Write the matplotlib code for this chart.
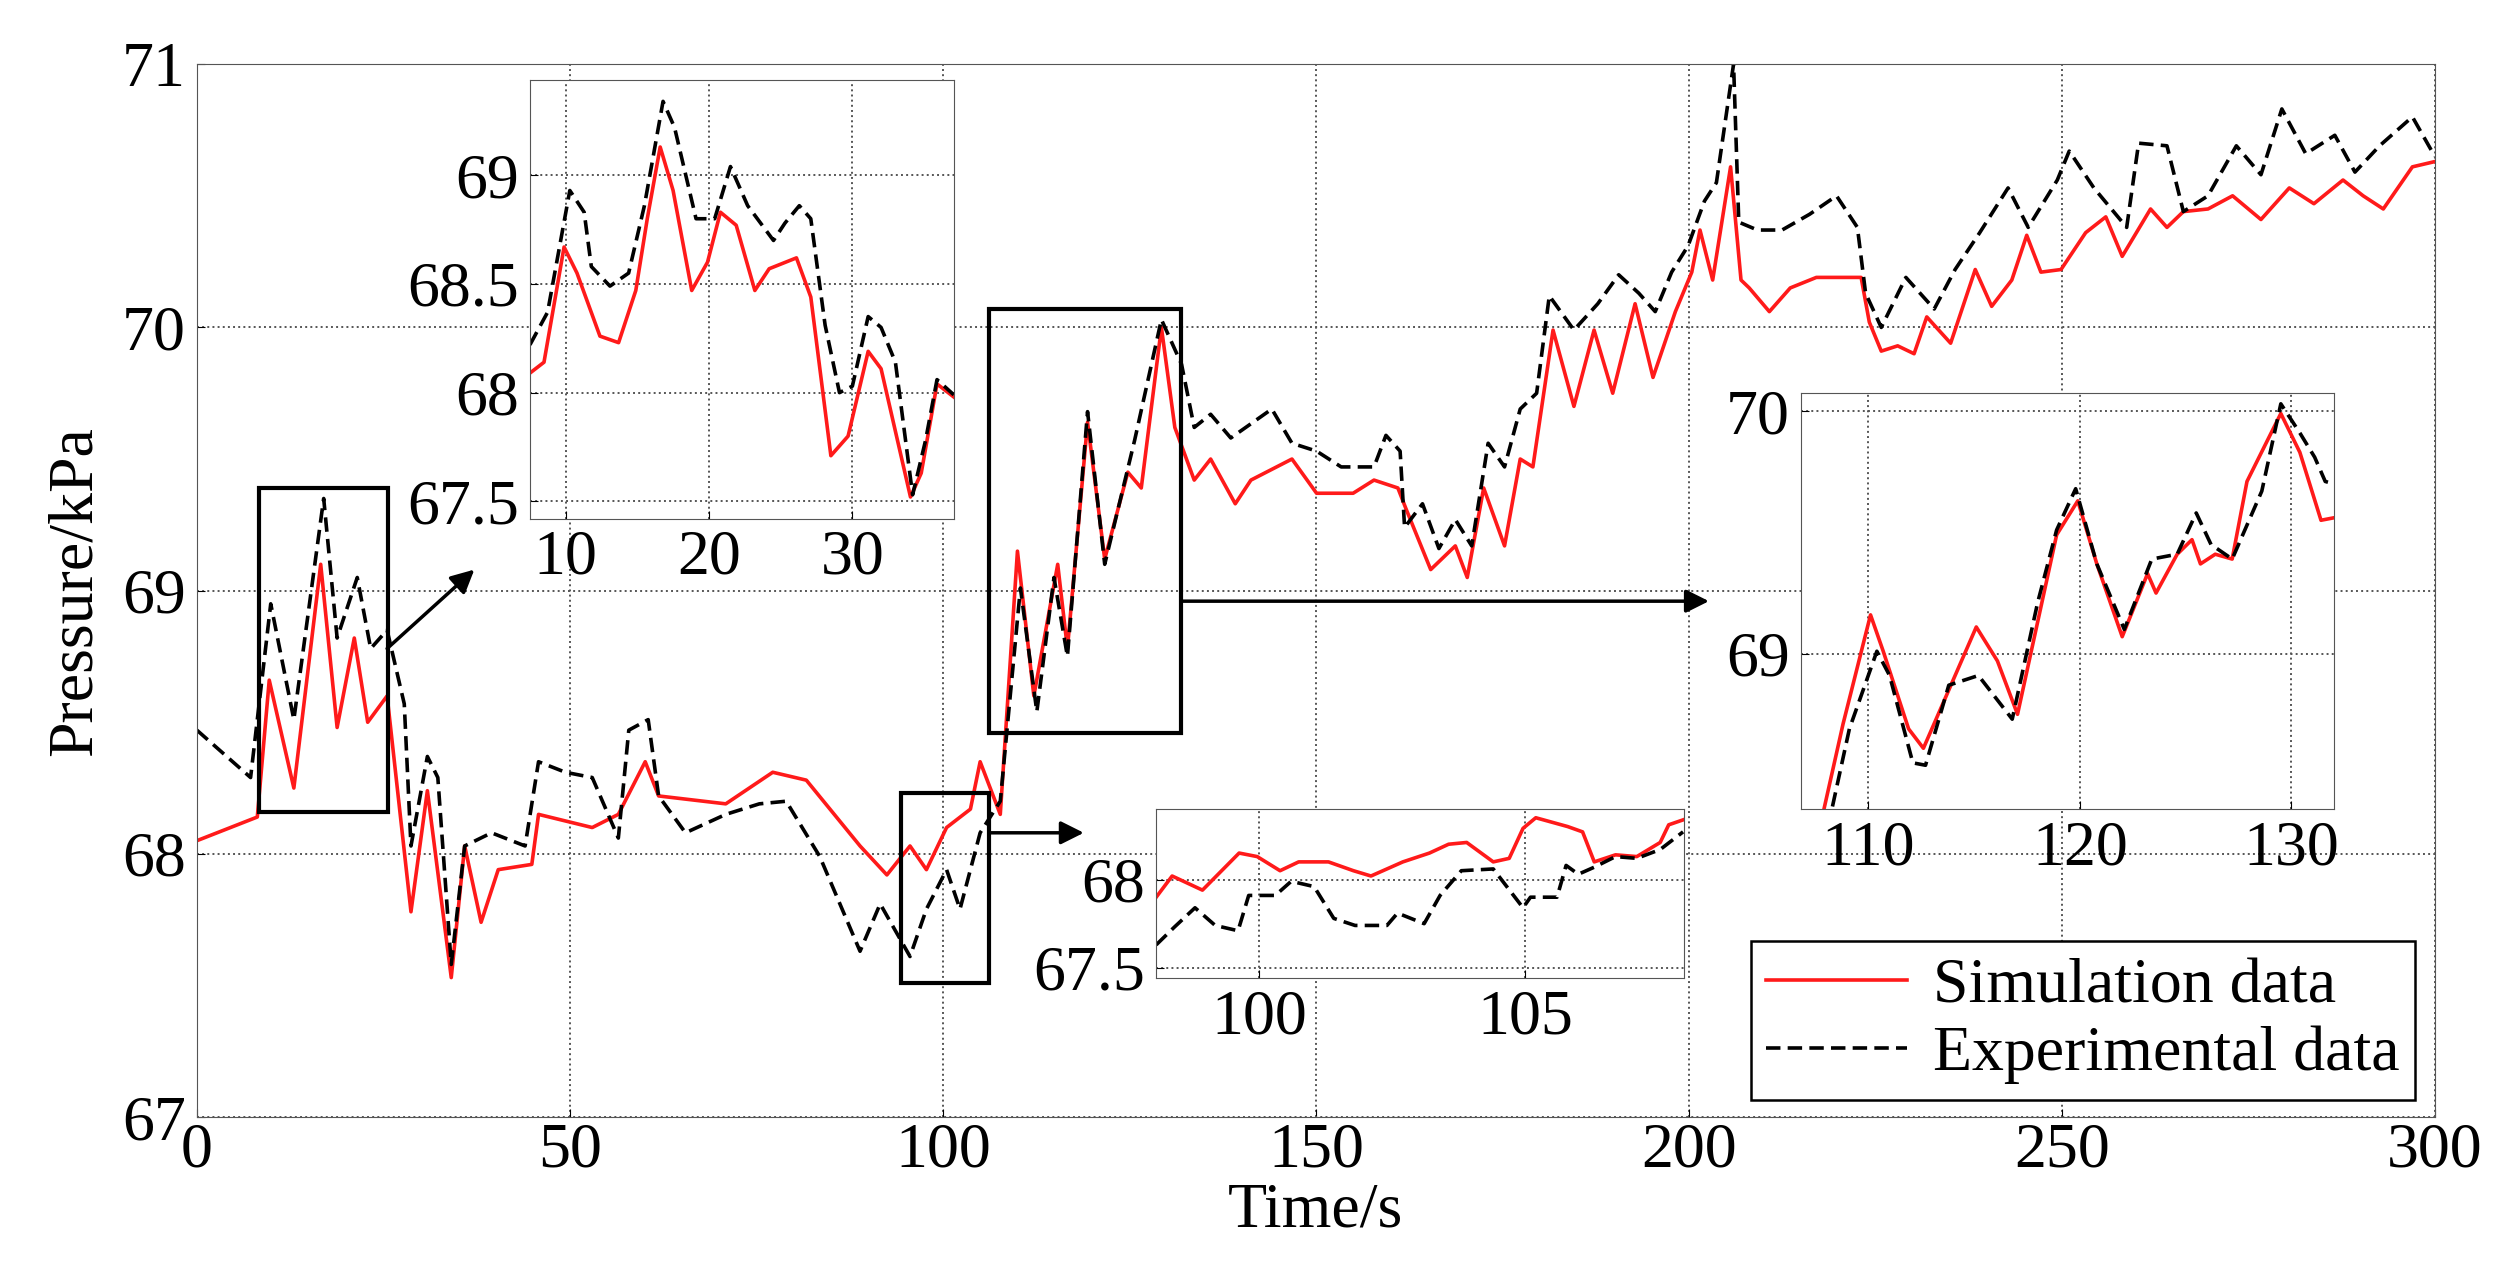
import numpy as np
import matplotlib
matplotlib.use("Agg")
import matplotlib.pyplot as plt
from matplotlib.ticker import FormatStrFormatter

plt.rcParams['font.family'] = ['Liberation Serif', 'DejaVu Serif']

# main series
sim_t = [0, 8.1, 9.7, 13.0, 16.6, 18.8, 21.1, 22.9, 25.5, 28.7, 30.9, 34.1, 35.9, 38.1, 40.4, 44.9,
         45.8, 53.0, 56.5, 60.1, 61.9, 70.9, 77.2, 81.7, 88.9, 92.5, 95.6, 97.8, 100.5, 103.7, 105.0,
         107.7, 110.0, 112.2, 115.4, 116.7, 119.4, 121.7, 124.8, 126.6, 129.3, 131.1, 133.7, 135.9,
         139.2, 141.3, 146.8, 150.1, 155.0, 157.8, 161.0, 162.1, 165.4, 168.7, 170.3, 172.5, 175.3,
         177.4, 179.1, 181.8, 184.6, 187.3, 189.8, 192.8, 195.2, 198.2, 200.4, 201.5, 203.2, 205.6,
         207.0, 208.1, 210.8, 213.6, 217.1, 223.1, 224.2, 225.8, 228.0, 230.2, 231.9, 235.1, 238.4,
         240.6, 243.3, 245.3, 247.2, 249.9, 253.2, 255.9, 258.1, 261.9, 264.1, 266.3, 269.6, 272.9,
         276.7, 280.5, 283.8, 287.7, 290.4, 293.1, 297.0, 300]
sim_p = [68.05, 68.14, 68.66, 68.25, 69.1, 68.48, 68.82, 68.5, 68.6, 67.78, 68.24, 67.53, 68.03,
         67.74, 67.94, 67.96, 68.15, 68.1, 68.15, 68.35, 68.22, 68.19, 68.31, 68.28, 68.03, 67.92,
         68.03, 67.94, 68.1, 68.17, 68.35, 68.15, 69.15, 68.6, 69.1, 68.78, 69.64, 69.12, 69.45,
         69.39, 70.0, 69.62, 69.42, 69.5, 69.33, 69.42, 69.5, 69.37, 69.37, 69.42, 69.39, 69.31,
         69.08, 69.17, 69.05, 69.39, 69.17, 69.5, 69.47, 69.99, 69.7, 69.99, 69.75, 70.09, 69.81,
         70.06, 70.21, 70.37, 70.18, 70.61, 70.18, 70.15, 70.06, 70.15, 70.19, 70.19, 70.02, 69.91,
         69.93, 69.9, 70.04, 69.94, 70.22, 70.08, 70.18, 70.35, 70.21, 70.22, 70.36, 70.42, 70.27,
         70.45, 70.38, 70.44, 70.45, 70.5, 70.41, 70.53, 70.47, 70.56, 70.5, 70.45, 70.61, 70.63]
exp_t = [0, 7.2, 9.9, 13.0, 17.0, 18.8, 21.5, 23.3, 25.5, 27.8, 28.7, 30.9, 32.3, 34.1, 35.9, 39.5,
         44.0, 45.8, 49.4, 53.0, 56.5, 57.9, 60.5, 61.9, 65.5, 70.9, 75.4, 79.0, 83.5, 88.9, 91.6,
         95.6, 97.8, 100.5, 102.3, 105.0, 107.7, 110.4, 112.6, 114.9, 116.7, 119.4, 121.7, 125.7,
         129.3, 132.0, 133.7, 135.9, 138.6, 144.1, 146.8, 150.1, 153.4, 157.8, 159.4, 161.3, 161.9,
         164.3, 166.5, 168.7, 170.9, 173.1, 175.3, 177.4, 179.6, 181.3, 184.6, 187.8, 190.6, 193.3,
         195.5, 197.7, 199.9, 202.1, 203.7, 206.0, 206.7, 209.2, 212.5, 216.2, 219.8, 222.6, 223.7,
         225.8, 229.1, 232.9, 235.7, 239.0, 242.8, 245.5, 249.4, 251.0, 254.3, 258.7, 260.3, 264.1,
         266.3, 269.6, 273.4, 276.7, 279.5, 282.7, 286.6, 289.3, 292.6, 297.0, 300]
exp_p = [68.47, 68.29, 68.95, 68.51, 69.35, 68.82, 69.05, 68.78, 68.85, 68.57, 68.03, 68.37, 68.29,
         67.58, 68.03, 68.08, 68.03, 68.35, 68.31, 68.29, 68.06, 68.47, 68.51, 68.22, 68.08, 68.15,
         68.19, 68.2, 67.99, 67.63, 67.81, 67.61, 67.79, 67.94, 67.79, 68.08, 68.2, 69.01, 68.54,
         69.05, 68.75, 69.68, 69.1, 69.57, 70.03, 69.86, 69.62, 69.67, 69.58, 69.69, 69.56, 69.53,
         69.47, 69.47, 69.59, 69.53, 69.24, 69.33, 69.16, 69.27, 69.17, 69.56, 69.47, 69.69, 69.75,
         70.12, 69.99, 70.09, 70.2, 70.13, 70.06, 70.21, 70.31, 70.48, 70.55, 71.0, 70.4, 70.37,
         70.37, 70.43, 70.5, 70.38, 70.13, 70.0, 70.19, 70.07, 70.22, 70.36, 70.53, 70.38, 70.56,
         70.67, 70.53, 70.38, 70.7, 70.69, 70.44, 70.5, 70.69, 70.58, 70.83, 70.66, 70.73, 70.59,
         70.69, 70.8, 70.65]

# inset 1 (8-37 s)
in1_sim_t = [7.52, 8.5, 9.9, 10.8, 12.4, 13.7, 14.9, 15.7, 16.6, 17.5, 18.8, 19.9, 20.8, 21.9, 23.2,
             24.2, 26.1, 27.1, 28.5, 29.7, 31.1, 32.0, 34.05, 34.8, 35.9, 37.07]
in1_sim_p = [68.09, 68.14, 68.67, 68.55, 68.26, 68.23, 68.47, 68.8, 69.13, 68.93, 68.47, 68.6, 68.83,
             68.77, 68.47, 68.57, 68.62, 68.44, 67.71, 67.8, 68.19, 68.11, 67.52, 67.63, 68.04, 67.98]
in1_exp_t = [7.52, 8.75, 10.3, 11.3, 11.8, 13.1, 14.4, 15.5, 16.8, 17.6, 19.1, 20.4, 21.5, 22.7, 24.5,
             25.3, 26.3, 27.1, 28.1, 29.1, 30.0, 31.1, 32.0, 33.0, 34.2, 35.1, 35.9, 37.07]
in1_exp_p = [68.22, 68.37, 68.93, 68.83, 68.58, 68.49, 68.55, 68.86, 69.34, 69.22, 68.8, 68.8, 69.04,
             68.86, 68.7, 68.78, 68.86, 68.8, 68.31, 68.0, 68.03, 68.35, 68.3, 68.14, 67.53, 67.78,
             68.06, 67.99]

# inset 2 (98-108 s)
in2_sim_t = [98.06, 98.36, 98.93, 99.62, 99.96, 100.39, 100.74, 101.3, 101.77, 102.1, 102.7, 103.2,
             103.56, 103.9, 104.4, 104.7, 104.96, 105.2, 105.8, 106.08, 106.3, 106.7, 107.1, 107.54,
             107.7, 107.99]
in2_sim_p = [67.9, 68.02, 67.94, 68.15, 68.13, 68.05, 68.1, 68.1, 68.05, 68.02, 68.1, 68.15, 68.2,
             68.21, 68.1, 68.12, 68.29, 68.35, 68.3, 68.27, 68.1, 68.14, 68.13, 68.21, 68.31, 68.34]
in2_exp_t = [98.06, 98.4, 98.79, 99.17, 99.6, 99.8, 100.3, 100.6, 101.03, 101.4, 101.8, 102.4, 102.6,
             103.1, 103.4, 103.8, 104.4, 104.96, 105.1, 105.6, 105.77, 106.0, 106.3, 106.7, 107.1,
             107.54, 107.97]
in2_exp_p = [67.63, 67.73, 67.84, 67.74, 67.71, 67.91, 67.91, 67.99, 67.96, 67.78, 67.74, 67.74,
             67.81, 67.75, 67.91, 68.05, 68.06, 67.84, 67.9, 67.9, 68.08, 68.03, 68.07, 68.13, 68.12,
             68.17, 68.27]

# inset 3 (107-132 s)
in3_sim_t = [107.9, 108.8, 110.1, 110.7, 111.9, 112.6, 113.8, 115.1, 116.1, 117.05, 118.9, 119.9,
             120.8, 122.0, 123.2, 123.6, 124.6, 125.3, 125.7, 126.4, 127.2, 127.9, 129.5, 130.4,
             131.4, 132.0]
in3_sim_p = [68.36, 68.71, 69.16, 69.01, 68.69, 68.61, 68.85, 69.11, 68.97, 68.75, 69.49, 69.63,
             69.37, 69.07, 69.33, 69.25, 69.41, 69.47, 69.37, 69.41, 69.39, 69.71, 69.99, 69.83,
             69.55, 69.56]
in3_exp_t = [108.3, 109.1, 110.4, 111.0, 112.1, 112.7, 113.8, 115.2, 116.8, 118.0, 118.9, 119.8,
             120.8, 122.1, 123.4, 124.6, 125.5, 126.2, 127.2, 128.6, 129.5, 130.4, 131.1, 131.6, 132.0]
in3_exp_p = [68.37, 68.69, 69.01, 68.91, 68.55, 68.54, 68.87, 68.91, 68.73, 69.21, 69.51, 69.68,
             69.37, 69.1, 69.39, 69.41, 69.58, 69.45, 69.39, 69.67, 70.03, 69.91, 69.81, 69.71, 69.7]

RED = "#ff1a1a"
FS = 46


def draw(ax, st, sp, et, ep, lw=2.6):
    ax.plot(st, sp, color=RED, lw=lw)
    ax.plot(et, ep, color="black", lw=lw, ls=(0, (4, 2)))
    ax.grid(True, color="#555555", ls=":", lw=1.4)
    ax.tick_params(labelsize=FS, direction="in", length=6, pad=8)
    ax.yaxis.set_major_formatter(FormatStrFormatter('%g'))
    for s in ax.spines.values():
        s.set_color("#555555")


fig = plt.figure(figsize=(25.08, 12.84), dpi=100)
ax = fig.add_axes([0.0785, 0.130, 0.8923, 0.820])
draw(ax, sim_t, sim_p, exp_t, exp_p)
ax.set_xlim(0, 300)
ax.set_ylim(67, 71)
ax.set_xticks(range(0, 301, 50))
ax.set_yticks([67, 68, 69, 70, 71])
ax.tick_params(axis="x", pad=4)
ax.set_xlabel("Time/s", fontsize=FS, labelpad=1)
ax.set_ylabel("Pressure/kPa", fontsize=FS, labelpad=12)

# zoom boxes
for x0, x1, y0, y1 in [(8.3, 25.6, 68.16, 69.39), (94.4, 106.2, 67.51, 68.23), (106.2, 131.9, 68.46, 70.07)]:
    ax.add_patch(plt.Rectangle((x0, y0), x1 - x0, y1 - y0, fill=False, ec="black", lw=3, zorder=5))

arrow = dict(arrowstyle="-|>", color="black", lw=2.5, mutation_scale=35, shrinkA=0, shrinkB=0)
ax.annotate("", xy=(37.2, 69.08), xytext=(25.5, 68.78), arrowprops=arrow)
ax.annotate("", xy=(118.9, 68.08), xytext=(106.2, 68.08), arrowprops=arrow)
ax.annotate("", xy=(202.7, 68.96), xytext=(131.9, 68.96), arrowprops=arrow)

a1 = fig.add_axes([0.2113, 0.596, 0.169, 0.342])
draw(a1, in1_sim_t, in1_sim_p, in1_exp_t, in1_exp_p)
a1.set_xlim(7.52, 37.07)
a1.set_ylim(67.42, 69.44)
a1.set_xticks([10, 20, 30])
a1.set_yticks([67.5, 68, 68.5, 69])

a2 = fig.add_axes([0.461, 0.238, 0.2105, 0.132])
draw(a2, in2_sim_t, in2_sim_p, in2_exp_t, in2_exp_p)
a2.set_xlim(98.06, 107.99)
a2.set_ylim(67.44, 68.40)
a2.set_xticks([100, 105])
a2.set_yticks([67.5, 68])

a3 = fig.add_axes([0.718, 0.370, 0.2125, 0.324])
draw(a3, in3_sim_t, in3_sim_p, in3_exp_t, in3_exp_p)
a3.set_xlim(106.8, 132.0)
a3.set_ylim(68.36, 70.075)
a3.set_xticks([110, 120, 130])
a3.set_yticks([69, 70])

l1, = ax.plot([], [], color=RED, lw=2.6, label="Simulation data")
l2, = ax.plot([], [], color="black", lw=2.6, ls=(0, (4, 2)), label="Experimental data")
leg = fig.legend(handles=[l1, l2], loc="lower right", fontsize=FS, fancybox=False,
                 edgecolor="black", framealpha=1, bbox_to_anchor=(0.963, 0.143),
                 handlelength=2.2, borderpad=0.25, labelspacing=0.15, handletextpad=0.4,
                 borderaxespad=0)
leg.get_frame().set_linewidth(1.8)
leg.set_zorder(20)

fig.savefig("out.png", dpi=100)
